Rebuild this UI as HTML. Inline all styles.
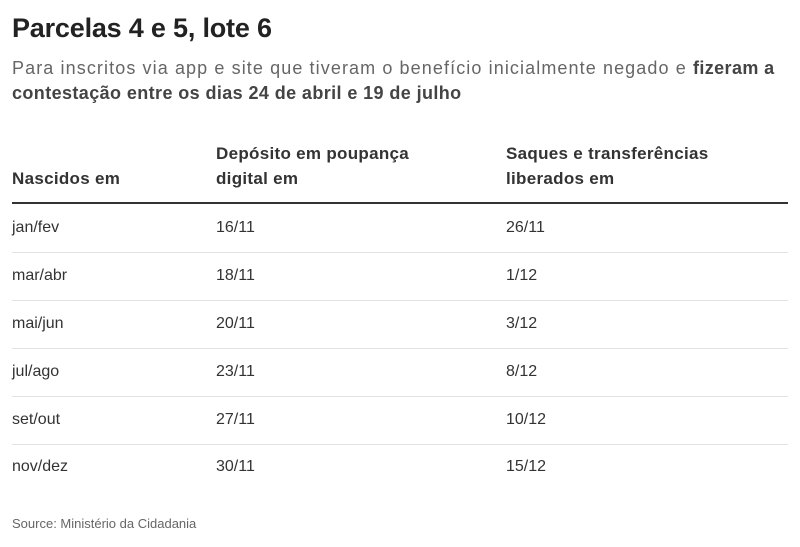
<!DOCTYPE html>
<html><head><meta charset="utf-8"><style>
body{margin:0;width:800px;height:547px;background:#fff;font-family:"Liberation Sans",sans-serif;position:relative;overflow:hidden;color:#333}
.a{position:absolute;white-space:nowrap}
h1{position:absolute;left:12px;top:13px;margin:0;font-size:27px;font-weight:bold;color:#222;letter-spacing:-0.2px}
.sub{left:12px;font-size:18px;color:#666;letter-spacing:1.1px}
.sub b{color:#444;letter-spacing:0.4px}
.hd{font-size:17px;font-weight:bold;color:#333;letter-spacing:0.3px}
.c{font-size:16px;color:#333}
.ln{position:absolute;left:12px;width:776px;height:1px;background:#e2e2e2}
</style></head><body>
<h1>Parcelas 4 e 5, lote 6</h1>
<div class="a sub" style="top:58px">Para inscritos via app e site que tiveram o benefício inicialmente negado e <b>fizeram a</b></div>
<div class="a sub" style="top:83px"><b>contestação entre os dias 24 de abril e 19 de julho</b></div>
<div class="a hd" style="left:12px;top:169px">Nascidos em</div>
<div class="a hd" style="left:216px;top:144px">Depósito em poupança</div>
<div class="a hd" style="left:216px;top:169px">digital em</div>
<div class="a hd" style="left:506px;top:144px">Saques e transferências</div>
<div class="a hd" style="left:506px;top:169px">liberados em</div>
<div style="position:absolute;left:12px;top:202px;width:776px;height:2px;background:#333"></div>
<div class="a c" style="left:12px;top:219px">jan/fev</div><div class="a c" style="left:216px;top:219px">16/11</div><div class="a c" style="left:506px;top:219px">26/11</div>
<div class="ln" style="top:252px"></div>
<div class="a c" style="left:12px;top:267px">mar/abr</div><div class="a c" style="left:216px;top:267px">18/11</div><div class="a c" style="left:506px;top:267px">1/12</div>
<div class="ln" style="top:300px"></div>
<div class="a c" style="left:12px;top:315px">mai/jun</div><div class="a c" style="left:216px;top:315px">20/11</div><div class="a c" style="left:506px;top:315px">3/12</div>
<div class="ln" style="top:348px"></div>
<div class="a c" style="left:12px;top:363px">jul/ago</div><div class="a c" style="left:216px;top:363px">23/11</div><div class="a c" style="left:506px;top:363px">8/12</div>
<div class="ln" style="top:396px"></div>
<div class="a c" style="left:12px;top:411px">set/out</div><div class="a c" style="left:216px;top:411px">27/11</div><div class="a c" style="left:506px;top:411px">10/12</div>
<div class="ln" style="top:444px"></div>
<div class="a c" style="left:12px;top:458px">nov/dez</div><div class="a c" style="left:216px;top:458px">30/11</div><div class="a c" style="left:506px;top:458px">15/12</div>
<div class="a" style="left:12px;top:516px;font-size:13px;color:#666">Source: Ministério da Cidadania</div>
</body></html>
